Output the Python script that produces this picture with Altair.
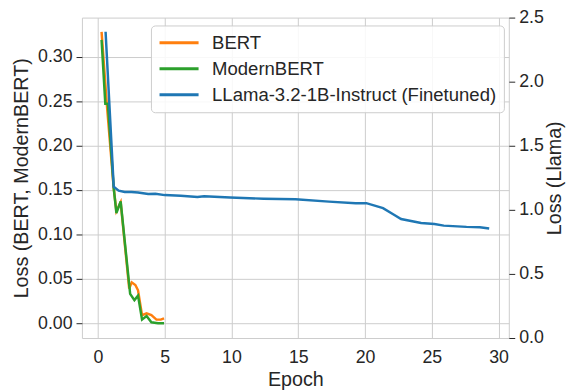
import altair as alt
import pandas as pd

# ---- data ----
series_names = ["BERT", "ModernBERT", "LLama-3.2-1B-Instruct (Finetuned)"]
series_colors = ["#ff7f0e", "#2ca02c", "#1f77b4"]

bert_epoch = [0.27, 0.66, 1.18, 1.38, 1.7, 2.34, 2.53, 2.8, 3.0, 3.3, 3.64, 4.0, 4.38, 4.7, 4.95]
bert_loss = [0.328, 0.247, 0.152, 0.126, 0.136, 0.039, 0.046, 0.043, 0.037, 0.009, 0.011, 0.009, 0.004, 0.004, 0.0055]

modern_epoch = [0.27, 0.55, 0.74, 1.18, 1.38, 1.7, 2.41, 2.73, 3.0, 3.3, 3.64, 4.0, 4.5, 4.95]
modern_loss = [0.319, 0.247, 0.247, 0.152, 0.124, 0.137, 0.033, 0.026, 0.031, 0.004, 0.008, 0.001, 0.0, 0.0]

llama_epoch = [0.57, 1.18, 1.55, 2.0, 2.5, 3.0, 3.76, 4.3, 5.0, 6.2, 7.45, 7.95, 9.9, 12.4,
               14.8, 17.3, 19.3, 20.1, 21.35, 22.2, 22.7, 24.2, 25.2, 25.9, 27.6, 28.6, 29.3]
llama_loss = [2.39, 1.18, 1.15, 1.14, 1.14, 1.136, 1.123, 1.125, 1.115, 1.11, 1.10, 1.106, 1.096, 1.087,
              1.082, 1.064, 1.051, 1.052, 1.013, 0.96, 0.928, 0.897, 0.89, 0.877, 0.867, 0.864, 0.854]

x_ticks = [0, 5, 10, 15, 20, 25, 30]
left_ticks = [0.0, 0.05, 0.10, 0.15, 0.20, 0.25, 0.30]
right_ticks = [0.0, 0.5, 1.0, 1.5, 2.0, 2.5]

bert_df = pd.DataFrame({
    "epoch": bert_epoch + modern_epoch,
    "loss": bert_loss + modern_loss,
    "model": [series_names[0]] * len(bert_epoch) + [series_names[1]] * len(modern_epoch),
    "order": [0] * len(bert_epoch) + [1] * len(modern_epoch),
})
llama_df = pd.DataFrame({
    "epoch": llama_epoch,
    "loss": llama_loss,
    "model": [series_names[2]] * len(llama_epoch),
})

FONT = "Liberation Sans"
TXT = "#262626"
GRID = "#cccccc"

x_enc = alt.X(
    "epoch:Q",
    scale=alt.Scale(domain=[-1.2, 30.77], nice=False, zero=False),
    axis=alt.Axis(title="Epoch", values=x_ticks, format="d", grid=True, ticks=False,
                  domain=False, labelPadding=11, titlePadding=3),
)

color_enc = alt.Color(
    "model:N",
    scale=alt.Scale(domain=series_names, range=series_colors),
    legend=alt.Legend(
        title=None, orient="none", legendX=70, legendY=8,
        symbolType="M-2.2,0H2.2", symbolSize=324, symbolStrokeWidth=3,
        symbolOffset=11,
        labelFontSize=18.8, labelFont=FONT, labelColor=TXT, labelOffset=23,
        rowPadding=5.4, padding=7, strokeColor=GRID, fillColor="rgba(255,255,255,0.85)",
        cornerRadius=4, labelLimit=400,
    ),
)

left = alt.Chart(bert_df).mark_line(strokeWidth=2.5).encode(
    x=x_enc,
    y=alt.Y(
        "loss:Q",
        scale=alt.Scale(domain=[-0.0167, 0.344], nice=False, zero=False),
        axis=alt.Axis(title="Loss (BERT, ModernBERT)", values=left_ticks, format=".2f",
                      grid=True, domain=False, tickSize=6, labelPadding=4, titlePadding=6),
    ),
    color=color_enc,
    order="order:Q",
)

right = alt.Chart(llama_df).mark_line(strokeWidth=2.5).encode(
    x=x_enc,
    y=alt.Y(
        "loss:Q",
        scale=alt.Scale(domain=[0, 2.5], nice=False, zero=False),
        axis=alt.Axis(title="Loss (Llama)", orient="right", values=right_ticks, format=".1f",
                      grid=False, domain=False, tickSize=6, labelPadding=4, titlePadding=1,
                      titleAngle=270, titleBaseline="top"),
    ),
    color=color_enc,
)

chart = alt.layer(left, right).resolve_scale(y="independent").properties(
    width=433, height=325,
    autosize=alt.AutoSizeParams(type="none"),
    padding={"left": 75, "top": 7, "right": 58, "bottom": 50},
).configure_view(
    stroke=GRID, strokeWidth=1
).configure_axis(
    labelFont=FONT, titleFont=FONT, labelFontSize=18, titleFontSize=20,
    labelColor=TXT, titleColor=TXT, tickColor=TXT, gridColor=GRID, gridWidth=1,
    titleFontWeight="normal",
)

chart.save("out.html", embed_options={"renderer": "svg", "actions": False})
